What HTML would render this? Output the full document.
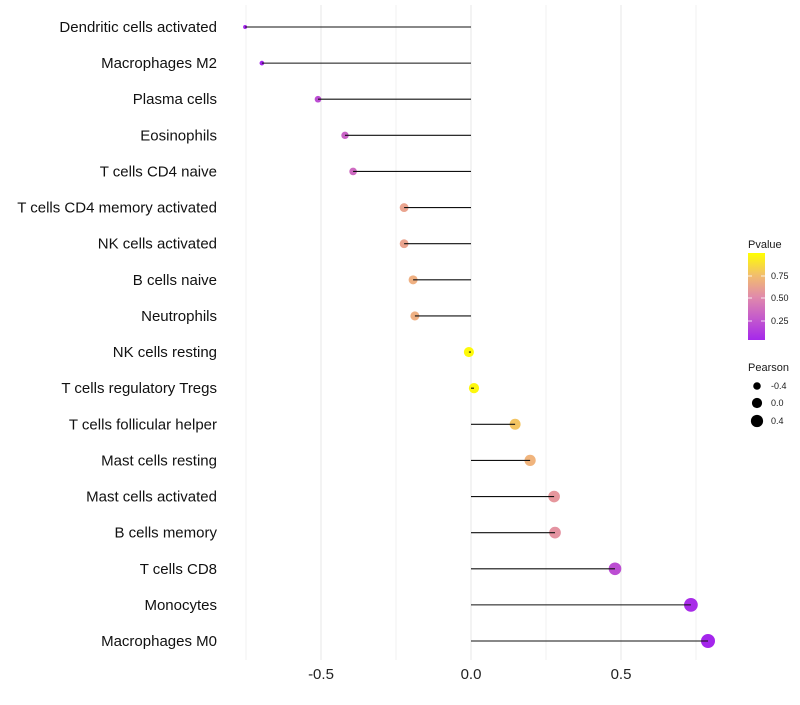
<!DOCTYPE html>
<html><head><meta charset="utf-8"><style>
body{margin:0;background:#fff;font-family:"Liberation Sans",sans-serif}
</style></head><body>
<svg id="c" width="800" height="700" xmlns="http://www.w3.org/2000/svg"></svg>
<script>
const categories=["Dendritic cells activated","Macrophages M2","Plasma cells","Eosinophils","T cells CD4 naive","T cells CD4 memory activated","NK cells activated","B cells naive","Neutrophils","NK cells resting","T cells regulatory  Tregs ","T cells follicular helper","Mast cells resting","Mast cells activated","B cells memory","T cells CD8","Monocytes","Macrophages M0"];
const pearson=[-0.753,-0.697,-0.51,-0.42,-0.393,-0.223,-0.223,-0.193,-0.187,-0.007,0.01,0.147,0.197,0.277,0.28,0.48,0.733,0.79];
const pvalue=[0.02,0.03,0.22,0.32,0.36,0.64,0.64,0.7,0.7,0.98,0.97,0.78,0.72,0.58,0.56,0.22,0.06,0.03];
const xTicks=[-0.5,0,0.5];
const xTickLabels=["-0.5","0.0","0.5"];
const NS="http://www.w3.org/2000/svg";
const svg=document.getElementById('c');
const X=v=>471+300*v;
const Y=i=>27+i*(614/17);
const R=v=>Math.sqrt(Math.max(1,25.9+29.2*v));
function col(p){
  const stops=[[0,[160,32,240]],[0.5,[224,135,175]],[0.72,[240,180,125]],[1,[255,255,0]]];
  for(let k=1;k<stops.length;k++){if(p<=stops[k][0]){const a=stops[k-1],b=stops[k];const t=(p-a[0])/(b[0]-a[0]);return 'rgb('+a[1].map((c,j)=>Math.round(c+(b[1][j]-c)*t)).join(',')+')';}}
  return 'rgb(255,255,0)';
}
function el(t,a,txt){const e=document.createElementNS(NS,t);for(const k in a)e.setAttribute(k,a[k]);if(txt!=null)e.textContent=txt;svg.appendChild(e);return e;}
[-0.75,-0.25,0.25,0.75].forEach(v=>{const g=el('line',{x1:X(v),x2:X(v),y1:5,y2:660,stroke:'#f2f2f2','stroke-width':1});

});
xTicks.forEach((v,i)=>{const g=el('line',{x1:X(v),x2:X(v),y1:5,y2:660,stroke:'#ebebeb','stroke-width':1.2});


const t=el('text',{x:X(v),y:679,'text-anchor':'middle','font-size':15,fill:'#222'},xTickLabels[i]);

});
categories.forEach((c,i)=>{
  const y=Y(i);
  const t=el('text',{x:217,y:y+5,'text-anchor':'end','font-size':15,fill:'#111'},c);
  
  
  const p=el('circle',{cx:X(pearson[i]),cy:y,r:R(pearson[i]),fill:col(pvalue[i])});
  
  
  const l=el('line',{x1:X(0),x2:X(pearson[i]),y1:y,y2:y,stroke:'#111','stroke-width':1.1});
  
  
});
const defs=el('defs',{});
defs.innerHTML='<linearGradient id="g" x1="0" y1="1" x2="0" y2="0">'+[0,0.25,0.5,0.75,1].map(s=>'<stop offset="'+s+'" stop-color="'+col(0.04+s*0.96)+'"/>').join('')+'</linearGradient>';
const lt=el('text',{x:748,y:248,'font-size':11,fill:'#1a1a1a'},'Pvalue');


const bar=el('rect',{x:748,y:253,width:17,height:87,fill:'url(#g)'});


[[0.75,276],[0.5,298],[0.25,321]].forEach(([v,y])=>{
  el('line',{x1:748,x2:752,y1:y,y2:y,stroke:'#fff','stroke-width':0.8});
  el('line',{x1:761,x2:765,y1:y,y2:y,stroke:'#fff','stroke-width':0.8});
  const t=el('text',{x:771,y:y+3,'font-size':9,fill:'#1a1a1a'},v.toFixed(2));
  
  
});
const st=el('text',{x:748,y:371,'font-size':11,fill:'#1a1a1a'},'Pearson');


[[-0.4,386],[0,403],[0.4,421]].forEach(([v,y])=>{
  const c=el('circle',{cx:757,cy:y,r:R(v),fill:'#000'});
  
  
  const t=el('text',{x:771,y:y+3,'font-size':9,fill:'#1a1a1a'},v.toFixed(1));
  
  
});
</script>
</body></html>
